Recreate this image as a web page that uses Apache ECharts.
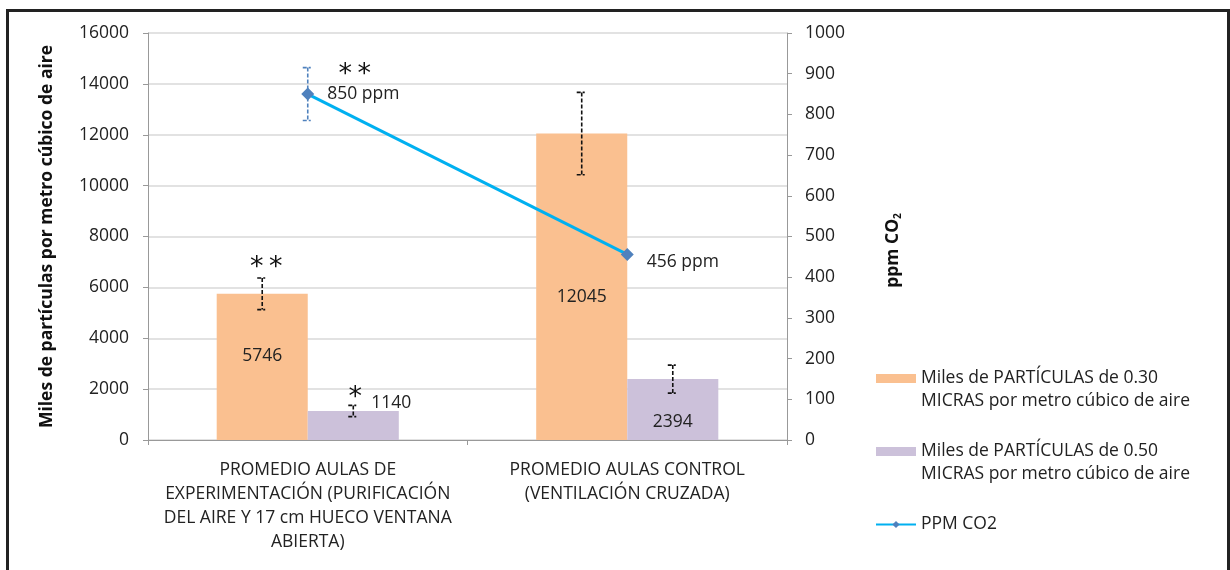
<!DOCTYPE html>
<html>
<head>
<meta charset="utf-8">
<script src="https://cdn.jsdelivr.net/npm/echarts@6/dist/echarts.min.js"></script>
<style>
  html, body { margin: 0; padding: 0; background: #fff; }
  #chart { width: 1230px; height: 570px; }
</style>
</head>
<body>
<div id="chart"></div>
<script>
// Categories (classroom groups)
const categories = [
  'PROMEDIO AULAS DE\nEXPERIMENTACIÓN (PURIFICACIÓN\nDEL AIRE Y 17 cm HUECO VENTANA\nABIERTA)',
  'PROMEDIO AULAS CONTROL\n(VENTILACIÓN CRUZADA)'
];

// Series names
const name030 = 'Miles de PARTÍCULAS de 0.30\nMICRAS por metro cúbico de aire';
const name050 = 'Miles de PARTÍCULAS de 0.50\nMICRAS por metro cúbico de aire';
const nameCO2 = 'PPM CO2';

// Values
const particles030 = [5746, 12045];
const particles050 = [1140, 2394];
const ppmCO2 = [850, 456];

// Error bar half-lengths
const err030 = [620, 1620];
const err050 = [220, 550];
const errCO2 = [65, 0];

// Significance marks
const marks030 = ['**', ''];
const marks050 = ['*', ''];
const marksCO2 = ['**', ''];

// Axis ticks
const leftAxis = { min: 0, max: 16000, interval: 2000 };
const rightAxis = { min: 0, max: 1000, interval: 100 };

const FONT = '"Open Sans", "Noto Sans", sans-serif';
const FS = 17.5;
const TEXT = '#222';
const BAR_GAP = 0.43;   // barCategoryGap as fraction

const chart = echarts.init(document.getElementById('chart'), null, { renderer: 'canvas' });

// Error bar + significance mark drawer for a series placed at a given slot of the bar group
function errorBarSeries(values, errs, marks, slot, yAxisIndex, color, markDx, markDy) {
  return {
    type: 'custom',
    yAxisIndex: yAxisIndex,
    silent: true,
    z: 5,
    data: values.map((v, i) => [i, v, errs[i]]),
    renderItem: function (params, api) {
      const idx = api.value(0), v = api.value(1), e = api.value(2);
      const c = api.coord([idx, v]);
      const band = api.size([1, 0])[0];
      const group = band * (1 - BAR_GAP);
      const bw = group / 2;
      let x = c[0];
      if (slot !== null) x = c[0] - group / 2 + bw * (slot + 0.5);
      const top = api.coord([idx, v + e])[1];
      const bot = api.coord([idx, v - e])[1];
      const dash = { stroke: color, lineWidth: 1.6, lineDash: [4, 2] };
      const children = [];
      if (e > 0) {
        children.push({ type: 'line', shape: { x1: x, y1: top, x2: x, y2: bot }, style: dash });
        children.push({ type: 'line', shape: { x1: x - 5, y1: top, x2: x + 3, y2: top }, style: dash });
        children.push({ type: 'line', shape: { x1: x - 5, y1: bot, x2: x + 3, y2: bot }, style: dash });
      }
      const m = marks[params.dataIndex];
      if (m) {
        children.push({
          type: 'text',
          style: {
            text: m.split('').join('\u2009'),
            x: x + markDx, y: top + markDy,
            align: 'center', verticalAlign: 'middle',
            font: '27px "DejaVu Sans", sans-serif',
            fill: '#111'
          }
        });
      }
      return { type: 'group', children: children };
    }
  };
}

const labelBase = { show: true, fontFamily: FONT, fontSize: FS, color: TEXT };
const plain = v => String(v);

const option = {
  animation: false,
  backgroundColor: '#fff',
  textStyle: { fontFamily: FONT },
  grid: { left: 148, right: 443, top: 33, bottom: 130 },
  legend: {
    orient: 'vertical',
    left: 875,
    top: 344,
    padding: 0,
    itemWidth: 40,
    itemHeight: 9,
    itemGap: 4,
    textStyle: { fontFamily: FONT, fontSize: FS, color: TEXT, lineHeight: 23 },
    // blank lines keep each icon level with the first line of its text
    formatter: function (n) { return n === nameCO2 ? '\n' + n + '\n' : '\n' + n; },
    data: [
      { name: name030, icon: 'rect' },
      { name: name050, icon: 'rect' },
      { name: nameCO2 }
    ]
  },
  xAxis: {
    type: 'category',
    data: categories,
    axisLine: { lineStyle: { color: '#999', width: 1 } },
    axisTick: { show: true, length: 5, lineStyle: { color: '#999' } },
    axisLabel: { fontFamily: FONT, fontSize: FS, color: TEXT, lineHeight: 24, margin: 18, interval: 0 }
  },
  yAxis: [
    {
      type: 'value',
      min: leftAxis.min, max: leftAxis.max, interval: leftAxis.interval,
      name: 'Miles de partículas por metro cúbico de aire',
      nameLocation: 'middle',
      nameRotate: 90,
      nameGap: 92,
      nameTextStyle: { fontFamily: FONT, fontSize: FS, fontWeight: 'bold', color: '#111' },
      axisLine: { show: true, lineStyle: { color: '#999' } },
      axisTick: { show: true, length: 5, lineStyle: { color: '#999' } },
      axisLabel: { fontFamily: FONT, fontSize: FS, color: TEXT, margin: 19, formatter: plain },
      splitLine: { show: true, lineStyle: { color: '#d9d9d9', width: 1.5 } }
    },
    {
      type: 'value',
      position: 'right',
      min: rightAxis.min, max: rightAxis.max, interval: rightAxis.interval,
      name: 'ppm CO{sub|2}',
      nameLocation: 'middle',
      nameRotate: 90,
      nameGap: 96,
      nameTextStyle: {
        fontFamily: FONT, fontSize: FS, fontWeight: 'bold', color: '#111',
        padding: [0, 28, 0, 0],
        rich: { sub: { fontFamily: FONT, fontSize: 10, fontWeight: 'bold', color: '#111', padding: [10, 0, 0, 0] } }
      },
      axisLine: { show: true, lineStyle: { color: '#999' } },
      axisTick: { show: true, length: 5, lineStyle: { color: '#999' } },
      axisLabel: { fontFamily: FONT, fontSize: FS, color: TEXT, margin: 18, formatter: plain },
      splitLine: { show: false }
    }
  ],
  series: [
    {
      name: name030,
      type: 'bar',
      barGap: '0%',
      barCategoryGap: (BAR_GAP * 100) + '%',
      itemStyle: { color: '#FAC090' },
      data: particles030.map((v, i) => ({
        value: v,
        label: Object.assign({}, labelBase, { position: 'inside', offset: [0, i === 0 ? -11 : 10] })
      }))
    },
    {
      name: name050,
      type: 'bar',
      barGap: '0%',
      barCategoryGap: (BAR_GAP * 100) + '%',
      itemStyle: { color: '#CCC1DA' },
      data: particles050.map((v, i) => ({
        value: v,
        label: i === 0
          ? Object.assign({}, labelBase, { position: 'top', offset: [38, 6] })
          : Object.assign({}, labelBase, { position: 'inside', offset: [0, 12] })
      }))
    },
    {
      name: nameCO2,
      type: 'line',
      yAxisIndex: 1,
      z: 6,
      symbol: 'diamond',
      symbolSize: 13,
      lineStyle: { color: '#00B0F0', width: 3 },
      itemStyle: { color: '#4F81BD' },
      data: ppmCO2.map((v, i) => ({
        value: v,
        label: Object.assign({}, labelBase, {
          position: 'right', distance: 13, offset: [0, i === 0 ? 0 : 8],
          formatter: function (p) { return p.value + ' ppm'; }
        })
      }))
    },
    errorBarSeries(particles030, err030, marks030, 0, 0, '#111', 4, -10),
    errorBarSeries(particles050, err050, marks050, 1, 0, '#111', 2, -7),
    errorBarSeries(ppmCO2, errCO2, marksCO2, null, 1, '#4F81BD', 47, 7)
  ],
  graphic: [
    {
      type: 'rect',
      silent: true,
      shape: { x: 7.5, y: 10.5, width: 1221, height: 600 },
      style: { fill: 'none', stroke: '#222', lineWidth: 3 }
    }
  ]
};

chart.setOption(option);
</script>
</body>
</html>
